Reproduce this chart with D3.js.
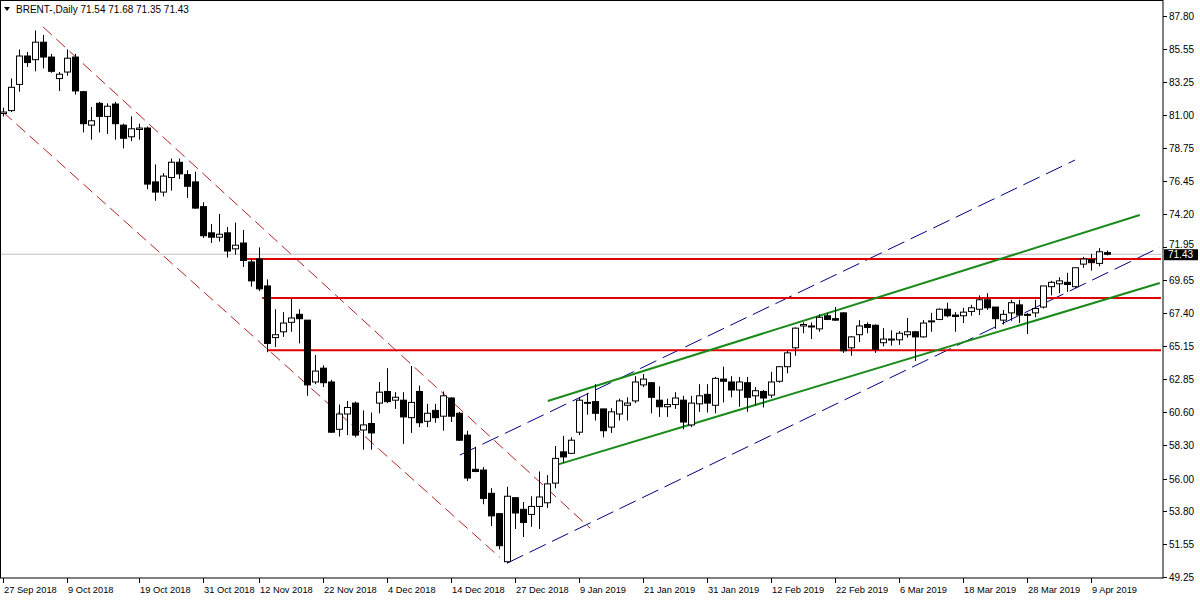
<!DOCTYPE html>
<html>
<head>
<meta charset="utf-8">
<script src="https://cdn.jsdelivr.net/npm/d3@7"></script>
<style>
  body { margin: 0; background: #fff; }
  svg { display: block; font-family: "Liberation Sans", Arial, sans-serif; }
</style>
</head>
<body>
<svg id="svg" width="1200" height="600"></svg>
<script>
// daily bars, BRENT, 27 Sep 2018 .. 10 Apr 2019
const opens  = [81.1,81.3,83.1,85.05,84.8,86.0,84.98,83.5,83.95,84.98,82.6,80.3,81.8,80.9,81.75,80.3,79.5,80.0,80.1,76.4,75.7,76.7,77.75,76.9,76.4,
  74.7,72.9,72.6,72.9,71.8,72.2,70.9,71.1,69.25,65.7,66.1,66.75,67.3,66.9,62.65,63.6,62.65,59.4,60.45,61.2,59.35,59.8,61.2,62.0,61.4,
  61.4,60.2,62.0,59.95,60.7,60.3,61.55,60.5,59.0,56.65,56.6,55.0,53.6,50.3,54.7,53.9,53.55,54.1,54.35,55.7,57.85,57.75,59.2,61.2,61.3,
  60.8,59.55,60.45,61.05,61.35,62.45,62.6,61.4,60.95,61.1,61.4,59.7,61.15,61.8,61.05,62.85,62.65,62.1,62.6,61.7,62.0,61.75,62.7,63.7,65.0,
  66.5,66.5,66.3,67.2,67.0,67.4,65.0,65.9,66.6,66.55,65.35,65.55,65.55,65.9,66.1,65.75,66.8,66.95,67.65,67.25,67.2,67.5,67.65,68.3,67.8,
  66.9,67.4,67.95,67.3,67.4,67.8,69.2,69.4,69.5,69.2,70.75,71.05,70.8,71.54];
const highs  = [81.5,83.5,85.5,85.33,86.8,86.5,85.2,83.95,85.5,85.2,82.65,81.55,81.9,81.8,81.9,80.4,80.9,80.4,80.2,77.6,77.0,78.0,78.0,77.2,77.1,
  75.0,73.5,74.2,73.3,73.6,73.1,71.15,71.9,69.7,67.65,67.45,68.35,67.65,66.9,64.5,63.8,62.8,61.1,61.35,61.3,60.7,60.55,62.65,63.6,61.95,
  61.95,63.75,62.4,61.15,61.15,62.0,61.6,60.6,59.3,58.2,56.8,55.35,53.65,55.45,54.7,54.4,54.8,56.5,56.25,58.25,58.95,58.85,61.6,61.9,62.5,
  60.8,60.85,61.5,61.6,63.05,63.2,62.65,62.35,61.5,61.95,61.7,61.7,62.5,62.5,63.0,63.7,63.05,63.0,63.0,62.3,62.1,63.35,63.75,64.85,66.4,
  66.75,66.75,67.3,67.4,67.8,67.45,65.8,66.9,66.75,66.6,66.35,66.2,66.15,67.05,66.15,66.9,67.4,67.7,68.1,67.45,67.75,67.95,68.6,68.75,67.8,
  67.6,68.3,68.3,67.4,68.3,69.25,69.6,69.85,70.15,70.5,71.25,71.45,71.85,71.68];
const lows   = [80.9,81.2,82.6,84.3,84.0,84.2,83.9,82.65,83.7,82.4,79.8,79.3,79.8,79.7,79.3,78.7,79.2,79.3,75.9,75.1,75.4,75.8,76.6,75.3,74.55,
  72.55,72.2,72.3,71.2,71.4,70.55,69.2,68.9,64.7,65.05,65.75,66.1,65.3,61.7,62.5,62.3,59.15,58.9,59.0,58.85,58.0,58.0,60.5,61.2,60.8,
  58.4,59.15,59.55,59.55,59.85,59.3,59.9,58.6,55.85,56.45,54.25,52.75,51.15,50.2,52.55,52.0,52.7,52.55,54.0,55.35,57.1,57.7,59.0,60.4,60.0,
  58.85,59.15,60.0,60.0,61.2,62.3,60.5,60.25,60.25,60.8,59.4,59.55,60.6,60.55,60.5,61.25,61.6,60.95,60.6,61.05,60.9,61.55,62.6,63.25,64.45,
  66.0,65.6,66.1,66.9,66.85,64.65,64.45,65.4,66.0,64.65,65.1,65.15,65.2,65.7,64.1,65.7,66.1,66.9,67.1,66.1,66.7,67.2,67.25,67.6,66.3,
  66.6,66.85,66.7,65.95,67.1,67.7,68.6,68.75,68.85,69.1,70.5,70.3,70.6,71.35];
const closes = [81.2,82.9,85.05,84.6,86.0,84.98,84.0,83.8,84.9,82.65,80.4,80.6,80.9,81.6,80.4,79.4,80.05,80.1,76.25,75.7,76.8,77.75,76.95,76.1,74.6,
  72.7,72.6,72.8,71.65,72.05,71.0,69.6,69.05,65.3,65.9,66.7,67.05,67.0,62.45,63.4,62.6,59.2,60.45,60.9,59.0,59.7,59.15,61.95,61.3,61.6,
  60.25,61.25,59.85,60.5,60.2,61.7,60.3,58.65,56.05,56.5,54.65,53.45,51.4,54.8,53.65,53.0,54.1,54.75,55.65,57.4,57.5,58.65,61.4,61.25,60.5,
  59.3,60.6,61.35,61.2,62.65,62.85,61.6,60.95,61.1,61.55,59.9,61.2,61.7,61.2,62.9,62.7,62.1,62.65,61.6,62.05,61.55,62.65,63.7,64.65,66.35,
  66.6,66.45,67.1,66.95,66.9,64.8,65.75,66.5,66.4,64.9,65.6,65.6,66.0,66.1,65.75,66.7,66.85,67.65,67.2,67.15,67.45,67.75,68.3,67.75,67.0,
  67.3,68.1,67.25,67.25,67.7,69.25,69.5,69.6,69.35,70.5,71.1,70.85,71.6,71.43];

const dateTicks  = [0, 8, 17, 25, 32, 40, 48, 56, 64, 72, 80, 88, 96, 104, 112, 120, 128, 136];
const dateLabels = ["27 Sep 2018","9 Oct 2018","19 Oct 2018","31 Oct 2018","12 Nov 2018","22 Nov 2018","4 Dec 2018",
  "14 Dec 2018","27 Dec 2018","9 Jan 2019","21 Jan 2019","31 Jan 2019","12 Feb 2019","22 Feb 2019","6 Mar 2019",
  "18 Mar 2019","28 Mar 2019","9 Apr 2019"];
const priceTicks = [87.80,85.55,83.25,81.00,78.75,76.45,74.20,71.95,69.65,67.40,65.15,62.85,60.60,58.30,56.00,53.80,51.55,49.25];
const lastPrice = 71.43;

// drawn objects, [bar index, price] end points
const redChannel   = [[[5,87.05],[73.4,52.6]], [[0,81.2],[62.1,50.6]]];
const blueChannel  = [[[57.1,57.63],[134,77.9]], [[63,50.2],[144.6,71.9]]];
const greenChannel = [[[68.1,61.34],[142.1,74.12]], [[69.1,56.94],[144.6,69.45]]];
const levels = [[30,71.1],[32.4,68.42],[33,64.84]];

const svg = d3.select("#svg");
const W = 1163, B = 578;
const x = d3.scaleLinear().domain([0, 144.75]).range([3, 1161]);
const y = d3.scaleLinear().domain([49.25, 87.80]).range([577, 16]);

const plot = svg.append("g");
plot.append("rect").attr("x",0.5).attr("y",0.5).attr("width",W-0.5).attr("height",B-0.5)
  .attr("fill","#fff").attr("stroke","#000");

// last price line
plot.append("line").attr("x1",1).attr("x2",W).attr("y1",y(lastPrice)).attr("y2",y(lastPrice))
  .attr("stroke","#c0c0c0");

// trend lines
function seg(l, color, width, dash) {
  plot.append("line")
    .attr("x1",x(l[0][0])).attr("y1",y(l[0][1])).attr("x2",x(l[1][0])).attr("y2",y(l[1][1]))
    .attr("stroke",color).attr("stroke-width",width).attr("stroke-dasharray",dash);
}
redChannel.forEach(l => seg(l, "#b22222", 1, "12,6"));
blueChannel.forEach(l => seg(l, "#000080", 1, "18,7"));
levels.forEach(l => seg([l,[144.75,l[1]]], "#e00000", 2, null));
greenChannel.forEach(l => seg(l, "#1a8a1a", 2, null));

// candles
const bars = d3.range(opens.length);
const cg = plot.append("g");
cg.selectAll(".wick").data(bars).join("line")
  .attr("x1",i=>Math.round(x(i))+0.5).attr("x2",i=>Math.round(x(i))+0.5)
  .attr("y1",i=>y(highs[i])).attr("y2",i=>y(lows[i]))
  .attr("stroke","#000");
cg.selectAll(".body").data(bars).join("rect")
  .attr("x",i=>Math.round(x(i))-2.5).attr("width",6)
  .attr("y",i=>y(Math.max(opens[i],closes[i])))
  .attr("height",i=>Math.max(1,Math.abs(y(opens[i])-y(closes[i]))))
  .attr("fill",i=>closes[i]>=opens[i]?"#fff":"#000")
  .attr("stroke","#000");

// right price axis
const ax = svg.append("g").attr("font-size",10);
priceTicks.forEach(p => {
  ax.append("line").attr("x1",W).attr("x2",W+4).attr("y1",Math.round(y(p))+0.5).attr("y2",Math.round(y(p))+0.5).attr("stroke","#000");
  if (p !== 71.95) ax.append("text").attr("x",W+6).attr("y",y(p)+4).text(p.toFixed(2));
  else ax.append("text").attr("x",W+6).attr("y",y(p)+1).text(p.toFixed(2));
});
ax.append("rect").attr("x",W+1).attr("y",y(lastPrice)-5).attr("width",34).attr("height",11).attr("fill","#000");
ax.append("text").attr("x",W+5).attr("y",y(lastPrice)+4).attr("fill","#fff").text(lastPrice.toFixed(2));

// bottom date axis
dateTicks.forEach((t,k) => {
  ax.append("line").attr("x1",Math.round(x(t))+0.5).attr("x2",Math.round(x(t))+0.5).attr("y1",B).attr("y2",B+5).attr("stroke","#000");
  ax.append("text").attr("x",x(t)+1).attr("y",B+15).attr("font-size",9.3).text(dateLabels[k]);
});

// header
svg.append("path").attr("d","M4,7 L10,7 L7,11 Z").attr("fill","#000");
svg.append("text").attr("x",16).attr("y",13).attr("font-size",10)
  .text("BRENT-,Daily  71.54 71.68 71.35 71.43");
</script>
</body>
</html>
